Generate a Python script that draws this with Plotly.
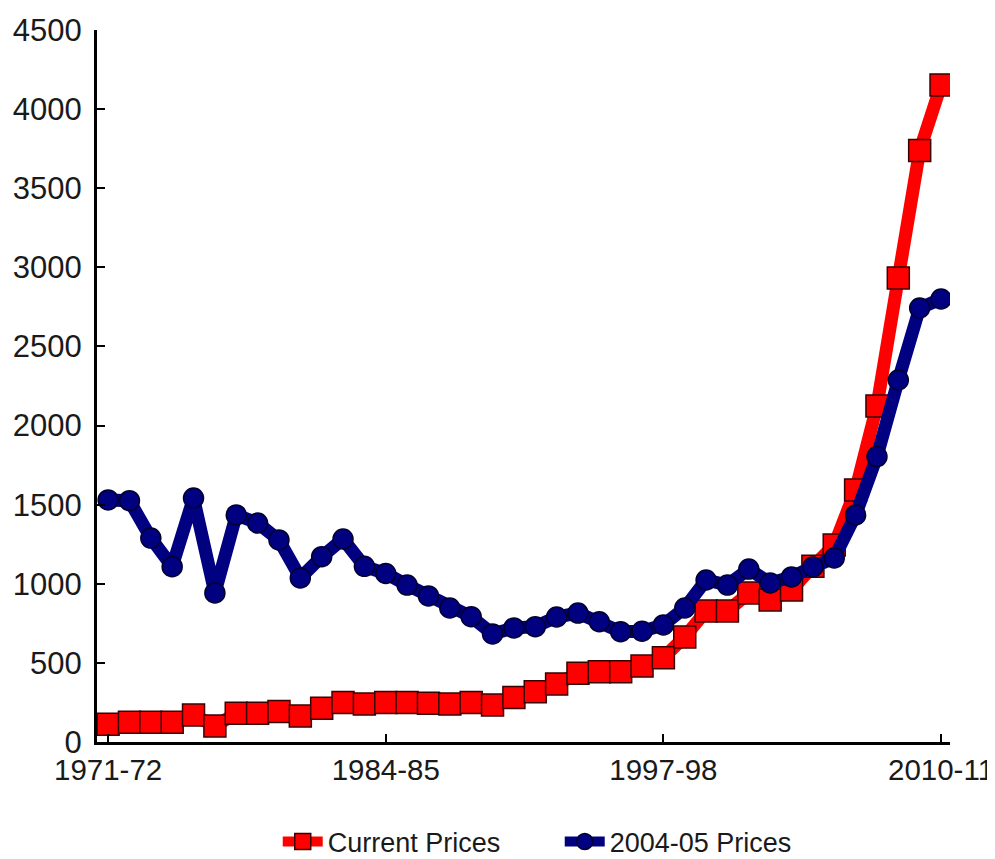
import plotly.graph_objects as go

years = ["1971-72", "1972-73", "1973-74", "1974-75", "1975-76", "1976-77", "1977-78",
         "1978-79", "1979-80", "1980-81", "1981-82", "1982-83", "1983-84", "1984-85",
         "1985-86", "1986-87", "1987-88", "1988-89", "1989-90", "1990-91", "1991-92",
         "1992-93", "1993-94", "1994-95", "1995-96", "1996-97", "1997-98", "1998-99",
         "1999-00", "2000-01", "2001-02", "2002-03", "2003-04", "2004-05", "2005-06",
         "2006-07", "2007-08", "2008-09", "2009-10", "2010-11"]

current_prices = [112, 125, 125, 125, 170, 101, 181, 181, 192, 164,
                  213, 249, 240, 250, 249, 245, 240, 249, 234, 282,
                  318, 367, 434, 444, 444, 480, 533, 664, 828, 828,
                  942, 898, 961, 1110, 1245, 1593, 2124, 2933, 3738, 4153]

constant_prices = [1530, 1525, 1289, 1108, 1542, 942, 1435, 1384, 1277, 1037,
                   1171, 1283, 1110, 1065, 992, 923, 847, 792, 683, 721,
                   729, 790, 815, 760, 697, 700, 740, 847, 1024, 992,
                   1093, 1005, 1043, 1106, 1163, 1435, 1804, 2288, 2743, 2800]

tick_labels = ["1971-72", "1984-85", "1997-98", "2010-11"]
y_ticks = [0, 500, 1000, 1500, 2000, 2500, 3000, 3500, 4000, 4500]

fig = go.Figure()
fig.add_trace(go.Scatter(
    x=years, y=current_prices, name="Current Prices", mode="lines+markers",
    line=dict(color="#ff0000", width=13),
    marker=dict(symbol="square", size=22, color="#ff0000",
                line=dict(color="#3a0000", width=1.5)),
))
fig.add_trace(go.Scatter(
    x=years, y=constant_prices, name="2004-05 Prices", mode="lines+markers",
    line=dict(color="#000080", width=13),
    marker=dict(symbol="circle", size=20, color="#000080",
                line=dict(color="#000030", width=1.5)),
))

# page body has an 8px default margin, so the figure is sized/offset to compensate
fig.update_layout(
    width=987, height=851,
    margin=dict(l=89, r=45, t=22, b=117),
    paper_bgcolor="white", plot_bgcolor="white",
    font=dict(family="Liberation Sans, Arial, sans-serif", size=30, color="#1a1a1a"),
    showlegend=True,
    legend=dict(orientation="h", xref="container", yref="container",
                x=0.559, xanchor="center", y=0.02, yanchor="middle",
                font=dict(size=27, color="#1a1a1a"), itemwidth=40,
                entrywidth=227, entrywidthmode="pixels"),
)
fig.update_xaxes(
    type="category", range=[-0.52, 39.42], automargin=False,
    tickmode="array", tickvals=tick_labels, ticktext=tick_labels,
    tickfont=dict(size=29.5),
    showgrid=False, zeroline=False,
    showline=True, linecolor="black", linewidth=3,
    ticks="inside", ticklen=8, tickwidth=1.5, tickcolor="black",
)
fig.update_yaxes(
    range=[0, 4500], tickmode="array", tickvals=y_ticks, automargin=False,
    showgrid=False, zeroline=False, ticklabelstandoff=6,
    tickfont=dict(size=31),
    showline=True, linecolor="black", linewidth=3,
    ticks="inside", ticklen=8, tickwidth=1.5, tickcolor="black",
)

fig.write_html("out.html")
